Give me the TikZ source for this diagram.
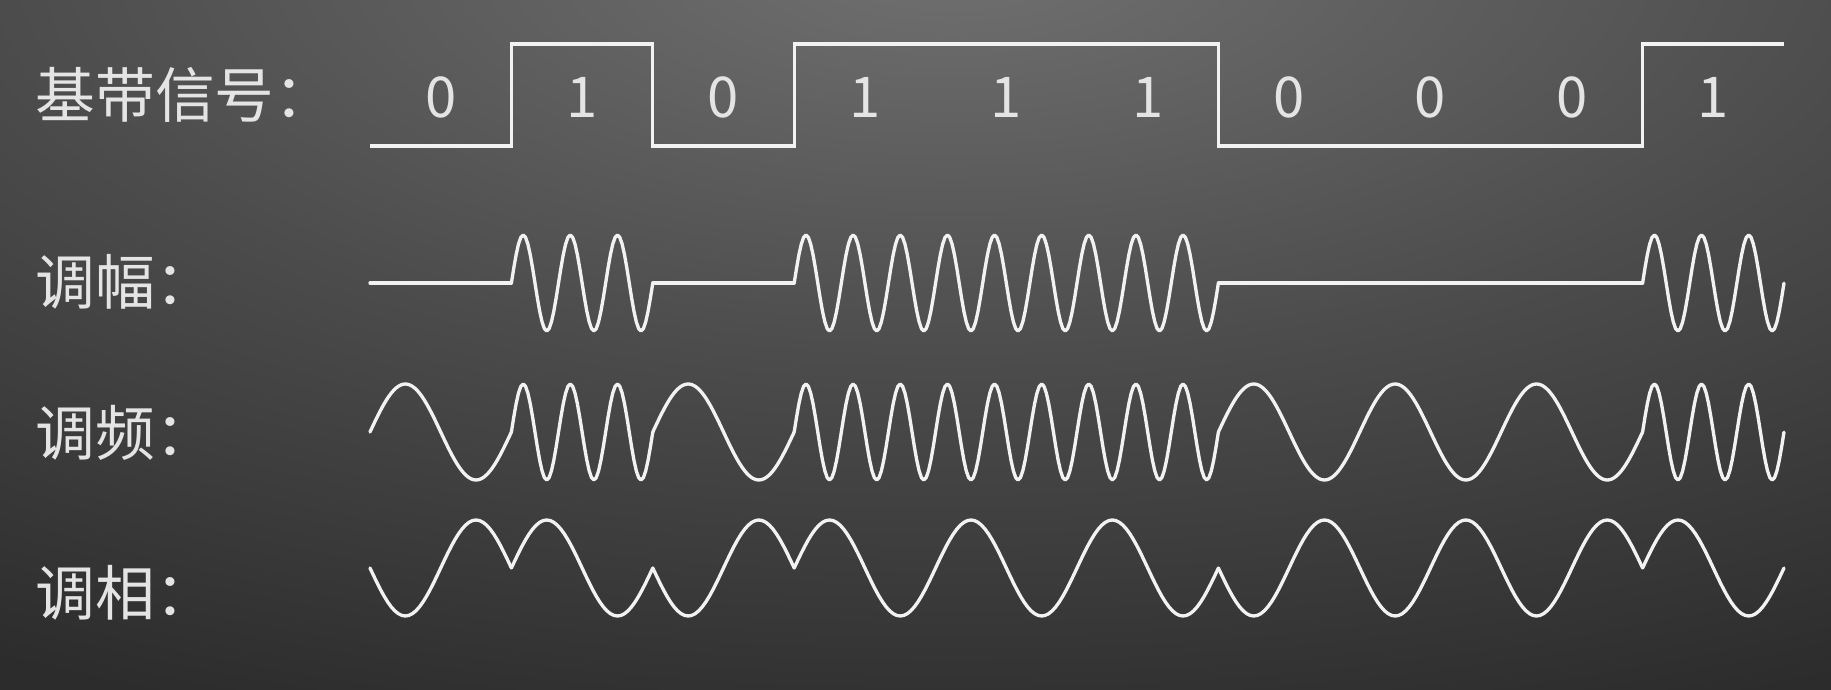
\documentclass[tikz,border=0pt]{standalone}
\usepackage{fontspec}
\setmainfont{Noto Sans CJK SC}
\usepackage{xcolor}
\usepackage{tikz}
\definecolor{bgtop}{HTML}{717171}
\definecolor{bgmid}{HTML}{4C4C4C}
\definecolor{bgbot}{HTML}{2C2C2C}
\definecolor{ink}{HTML}{F2F2F2}
\definecolor{txt}{HTML}{E4E4E4}
\pgfdeclareradialshading{bgglow}{\pgfpoint{0bp}{0bp}}{color(0bp)=(bgtop); color(12.5bp)=(bgmid); color(25bp)=(bgbot); color(50bp)=(bgbot)}
\newcommand{\bitw}{141.4}
\newcommand{\xo}{370}

\begin{document}
\begin{tikzpicture}[x=0.1mm,y=-0.1mm,
  lbl/.style={anchor=base west,inner sep=0pt,text=txt,font=\fontsize{17pt}{20pt}\selectfont},
  bit/.style={anchor=base,inner sep=0pt,text=txt,font=\fontsize{16pt}{19pt}\selectfont},
  wave/.style={draw=ink,line width=0.95pt,line cap=round,line join=round}]
  \useasboundingbox (0,0) rectangle (1831,690);
  \fill[bgbot] (0,0) rectangle (1831,690);
  \begin{scope}
    \clip (0,0) rectangle (1831,690);
    \shade[shading=bgglow] (950,-50) ellipse [x radius=1900, y radius=820];
  \end{scope}
  % row labels
  \node[lbl] (lbase) at (35,118) {基带信号：};
  \node[lbl] (lam) at (35,305) {调幅：};
  \node[lbl] (lfm) at (35,456) {调频：};
  \node[lbl] (lpm) at (35,616) {调相：};
  % baseband
  \draw[draw=ink,line width=0.95pt] (\xo,146)
    \foreach \i/\v in {0/0,1/1,2/0,3/1,4/1,5/1,6/0,7/0,8/0,9/1} {
      -- ({\xo+\i*\bitw},{146-102*\v}) -- ({\xo+(\i+1)*\bitw},{146-102*\v}) };
  \foreach \i/\v in {0/0,1/1,2/0,3/1,4/1,5/1,6/0,7/0,8/0,9/1} {
    \node[bit] (d\i) at ({\xo+(\i+0.5)*\bitw},118) {\v};
    % AM, FM, PM
    \draw[wave] plot[domain=0:1,samples=61] ({\xo+(\i+\x)*\bitw},{283-48*\v*sin(1080*\x)});
    \draw[wave] plot[domain=0:1,samples=61] ({\xo+(\i+\x)*\bitw},{432-48*sin(360*(1+2*\v)*\x)});
    \draw[wave] plot[domain=0:1,samples=41] ({\xo+(\i+\x)*\bitw},{568-48*(2*\v-1)*sin(360*\x)});
  }
\end{tikzpicture}
\end{document}
